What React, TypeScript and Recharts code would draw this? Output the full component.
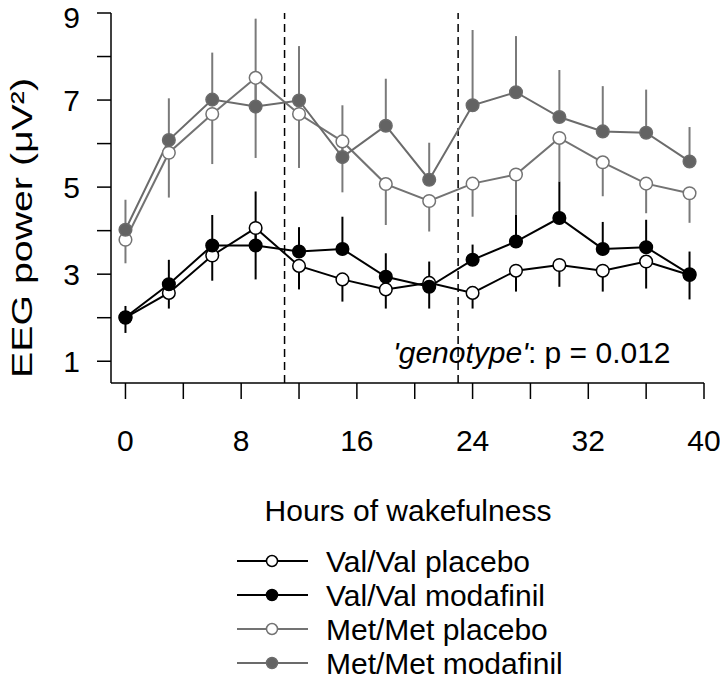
import React from "react";
import { LineChart, Line, XAxis, YAxis, ErrorBar, ReferenceLine, Customized } from "recharts";

const FONT = "'Liberation Sans', Arial, sans-serif";

const HOURS = [0, 3, 6, 9, 12, 15, 18, 21, 24, 27, 30, 33, 36, 39];
const X_TICKS = [0, 4, 8, 12, 16, 20, 24, 28, 32, 36, 40];
const Y_TICKS = [1, 2, 3, 4, 5, 6, 7, 8, 9];
const NIGHT_MARKS = [11, 23];

// means and SEM (one-sided bars: placebo down, modafinil up)
const VAL_PLACEBO = [2.0, 2.57, 3.43, 4.06, 3.19, 2.88, 2.65, 2.8, 2.57, 3.08, 3.21, 3.08, 3.29, 2.98];
const VAL_PLACEBO_SEM = [0.35, 0.36, 0.58, 1.18, 0.54, 0.51, 0.44, 0.59, 0.36, 0.48, 0.5, 0.48, 0.62, 0.56];
const VAL_MODA = [2.01, 2.77, 3.66, 3.66, 3.52, 3.58, 2.94, 2.71, 3.33, 3.75, 4.29, 3.58, 3.62, 3.0];
const VAL_MODA_SEM = [0.26, 0.56, 0.7, 1.24, 0.56, 0.74, 0.54, 0.58, 0.35, 0.61, 0.84, 0.62, 0.63, 0.52];
const MET_PLACEBO = [3.79, 5.79, 6.68, 7.51, 6.68, 6.05, 5.07, 4.68, 5.08, 5.29, 6.13, 5.57, 5.08, 4.86];
const MET_PLACEBO_SEM = [0.54, 1.03, 1.15, 1.84, 1.24, 1.17, 0.94, 0.7, 0.76, 0.93, 1.0, 0.78, 0.68, 0.68];
const MET_MODA = [4.02, 6.08, 7.01, 6.85, 6.99, 5.69, 6.41, 5.17, 6.88, 7.18, 6.61, 6.28, 6.25, 5.59];
const MET_MODA_SEM = [0.69, 0.96, 1.08, 2.02, 1.25, 1.19, 1.08, 0.85, 1.73, 1.29, 1.08, 1.04, 0.99, 0.79];

const SERIES = [
  { key: "valPlacebo", name: "Val/Val placebo", values: VAL_PLACEBO, sem: VAL_PLACEBO_SEM, down: true, color: "#000000", fill: "#ffffff", bar: "#000000" },
  { key: "valModa", name: "Val/Val modafinil", values: VAL_MODA, sem: VAL_MODA_SEM, down: false, color: "#000000", fill: "#000000", bar: "#000000" },
  { key: "metPlacebo", name: "Met/Met placebo", values: MET_PLACEBO, sem: MET_PLACEBO_SEM, down: true, color: "#737373", fill: "#ffffff", bar: "#7a7a7a" },
  { key: "metModa", name: "Met/Met modafinil", values: MET_MODA, sem: MET_MODA_SEM, down: false, color: "#6b6b6b", fill: "#636363", bar: "#7a7a7a" },
];

const data = HOURS.map((hour, i) => {
  const row: Record<string, any> = { hour };
  SERIES.forEach((s) => {
    row[s.key] = s.values[i];
    row[s.key + "Err"] = s.down ? [s.sem[i], 0] : [0, s.sem[i]];
  });
  return row;
});

function Annotations() {
  return (
    <g fontFamily={FONT} fill="#000">
      <text
        transform="translate(32,228) rotate(-90)"
        textAnchor="middle"
        fontSize={30}
        textLength={300}
        lengthAdjust="spacingAndGlyphs"
      >
        EEG power (μV²)
      </text>
      <text x={408} y={521} textAnchor="middle" fontSize={30}>
        Hours of wakefulness
      </text>
      <rect x={388} y={325} width={302} height={50} fill="#ffffff" />
      <text x={393} y={363} fontSize={30}>
        <tspan fontStyle="italic">'genotype'</tspan>: p = 0.012
      </text>
      {SERIES.map((s, i) => {
        const y = 561 + i * 34;
        return (
          <g key={s.key}>
            <line x1={237} x2={308} y1={y} y2={y} stroke={s.color} strokeWidth={2} />
            <circle cx={272} cy={y} r={5.5} fill={s.fill} stroke={s.color} strokeWidth={1.5} />
            <text x={326} y={y + 11} fontSize={30}>
              {s.name}
            </text>
          </g>
        );
      })}
    </g>
  );
}

export default function App() {
  return (
    <div style={{ position: "absolute", left: 0, top: 0, width: 720, height: 681, background: "#fff" }}>
      <LineChart width={720} height={681} data={data} margin={{ top: 13, right: 16, left: 0, bottom: 0 }}>
        <XAxis
          dataKey="hour"
          type="number"
          domain={[-1, 40]}
          ticks={X_TICKS}
          tickFormatter={(v: number) => (v % 8 === 0 ? String(v) : "")}
          height={298}
          tickSize={16}
          tickMargin={31}
          stroke="#000"
          strokeWidth={1.5}
          tick={{ fontSize: 30, fill: "#000", fontFamily: FONT }}
        />
        <YAxis
          type="number"
          domain={[0.5, 9]}
          ticks={Y_TICKS}
          tickFormatter={(v: number) => (v % 2 === 1 ? String(v) : "")}
          width={111}
          tickSize={14}
          tickMargin={17}
          stroke="#000"
          strokeWidth={1.5}
          tick={{ fontSize: 30, fill: "#000", fontFamily: FONT }}
        />
        {NIGHT_MARKS.map((h) => (
          <ReferenceLine key={h} x={h} stroke="#000" strokeWidth={1.5} strokeDasharray="8 5" />
        ))}
        {SERIES.map((s) => (
          <Line
            key={s.key + "-bars"}
            dataKey={s.key}
            stroke="none"
            dot={false}
            activeDot={false}
            legendType="none"
            isAnimationActive={false}
          >
            <ErrorBar dataKey={s.key + "Err"} direction="y" width={0} stroke={s.bar} strokeWidth={2} />
          </Line>
        ))}
        {SERIES.map((s) => (
          <Line
            key={s.key}
            dataKey={s.key}
            name={s.name}
            type="linear"
            stroke={s.color}
            strokeWidth={2}
            dot={{ r: 6.3, fill: s.fill, stroke: s.color, strokeWidth: 1.5 }}
            activeDot={false}
            isAnimationActive={false}
          />
        ))}
        <Customized component={Annotations} />
      </LineChart>
    </div>
  );
}
